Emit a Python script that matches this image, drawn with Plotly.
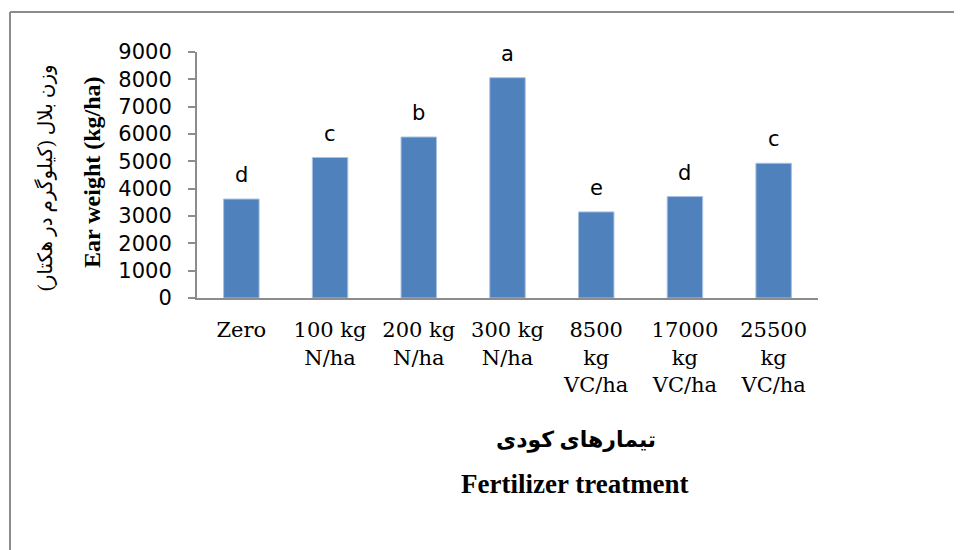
import plotly.graph_objects as go

categories = ["Zero", "100 kg<br>N/ha", "200 kg<br>N/ha", "300 kg<br>N/ha",
              "8500<br>kg<br>VC/ha", "17000<br>kg<br>VC/ha", "25500<br>kg<br>VC/ha"]
ear_weight = [3620, 5140, 5890, 8060, 3150, 3710, 4930]
letters = ["d", "c", "b", "a", "e", "d", "c"]
y_ticks = [0, 1000, 2000, 3000, 4000, 5000, 6000, 7000, 8000, 9000]

OFF = 8  # page body margin
W, H = 962 - OFF, 550 - OFF
L, R, T, B = 197, 818, 52, 298  # target page coords of plot area

def px(x):
    return (x - L) / (R - L)

def py(y):
    return (B - y) / (B - T)

serif = "Times New Roman, Liberation Serif, DejaVu Sans"
wide_serif = "DejaVu Serif, Liberation Serif"
sans = "DejaVu Sans, Arial"

fig = go.Figure()
fig.add_trace(go.Bar(
    x=categories, y=ear_weight,
    marker=dict(color="#4F81BD", line=dict(color="#A9C2E2", width=1)),
    showlegend=False,
))

for c, v, t in zip(categories, ear_weight, letters):
    fig.add_annotation(x=c, y=v, text=t, showarrow=False, yshift=24,
                       yanchor="middle", xanchor="center",
                       font=dict(family=sans, size=21, color="black"))

fig.add_annotation(xref="paper", yref="paper", x=px(45), y=py(178),
                   text="وزن بلال (کیلوگرم در هکتار)", textangle=-90, showarrow=False,
                   xanchor="center", yanchor="middle",
                   font=dict(family=serif, size=20, color="black"))
fig.add_annotation(xref="paper", yref="paper", x=px(92), y=py(172),
                   text="<b>Ear weight (kg/ha)</b>", textangle=-90, showarrow=False,
                   xanchor="center", yanchor="middle",
                   font=dict(family=serif, size=24, color="black"))
fig.add_annotation(xref="paper", yref="paper", x=px(576), y=py(440),
                   text="<b>تیمارهای کودی</b>", showarrow=False,
                   xanchor="center", yanchor="middle",
                   font=dict(family=serif, size=22, color="black"))
fig.add_annotation(xref="paper", yref="paper", x=px(575), y=py(484),
                   text="<b>Fertilizer treatment</b>", showarrow=False,
                   xanchor="center", yanchor="middle",
                   font=dict(family=serif, size=27, color="black"))

# outer frame lines (left and top)
fig.add_shape(type="line", xref="paper", yref="paper",
              x0=px(10), x1=px(10), y0=py(12), y1=py(570),
              line=dict(color="#8C8C8C", width=2))
fig.add_shape(type="line", xref="paper", yref="paper",
              x0=px(10), x1=px(990), y0=py(12), y1=py(12),
              line=dict(color="#8C8C8C", width=2))

fig.update_layout(
    width=W, height=H,
    margin=dict(l=L - OFF, r=W + OFF - R, t=T - OFF, b=H + OFF - B, pad=0),
    paper_bgcolor="white", plot_bgcolor="white",
    bargap=0.6,
    xaxis=dict(showline=True, linecolor="#8C8C8C", linewidth=2, ticks="",
               showgrid=False, ticklabelstandoff=12, tickangle=0,
               tickfont=dict(family=wide_serif, size=21, color="black")),
    yaxis=dict(range=[0, 9000], tickvals=y_ticks, showline=True,
               linecolor="#8C8C8C", linewidth=2, ticks="outside", ticklen=7,
               tickcolor="#8C8C8C", tickwidth=2, showgrid=False, zeroline=False,
               ticklabelstandoff=12,
               tickfont=dict(family=sans, size=21, color="black")),
)

fig.write_html("out.html")
